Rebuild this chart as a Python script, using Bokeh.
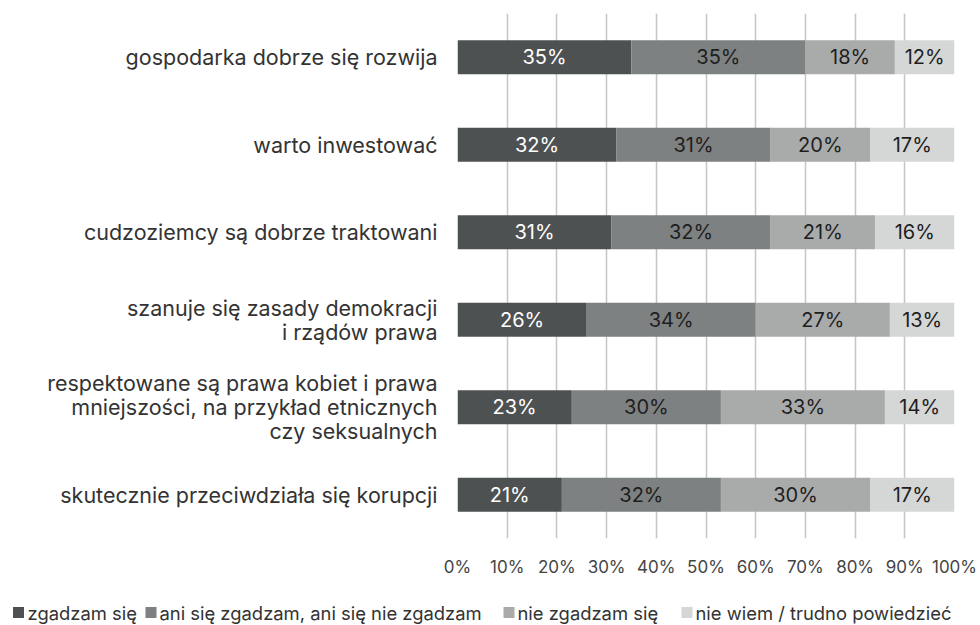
from bokeh.plotting import figure
from bokeh.models import ColumnDataSource, Range1d, FactorRange, FixedTicker
from bokeh.core.properties import value
from bokeh.embed import file_html
from bokeh.resources import INLINE

categories = [
    "gospodarka dobrze się rozwija",
    "warto inwestować",
    "cudzoziemcy są dobrze traktowani",
    "szanuje się zasady demokracji\ni rządów prawa",
    "respektowane są prawa kobiet i prawa\nmniejszości, na przykład etnicznych\nczy seksualnych",
    "skutecznie przeciwdziała się korupcji",
]
series_names = ["zgadzam się", "ani się zgadzam, ani się nie zgadzam", "nie zgadzam się", "nie wiem / trudno powiedzieć"]
zgadzam = [35, 32, 31, 26, 23, 21]
ani = [35, 31, 32, 34, 30, 32]
nie_zgadzam = [18, 20, 21, 27, 33, 30]
nie_wiem = [12, 17, 16, 13, 14, 17]
tick_values = [0, 10, 20, 30, 40, 50, 60, 70, 80, 90, 100]
tick_labels = ["0%", "10%", "20%", "30%", "40%", "50%", "60%", "70%", "80%", "90%", "100%"]

colors = ["#4e5152", "#7e8181", "#a9abab", "#d5d6d6"]
text_colors = ["#ffffff", "#1e1e1e", "#1e1e1e", "#1e1e1e"]
FONT = "Inter"

keys = ["s0", "s1", "s2", "s3"]
series = [zgadzam, ani, nie_zgadzam, nie_wiem]
src = ColumnDataSource(dict(cat=categories, **{k: v for k, v in zip(keys, series)}))

W = 980
H1 = 594
p = figure(width=W, height=H1, output_backend="svg", toolbar_location=None,
           y_range=FactorRange(*reversed(categories), range_padding=0),
           x_range=Range1d(0, 100),
           min_border_left=457, min_border_right=26, min_border_top=13, min_border_bottom=H1 - 538)
p.outline_line_color = None
p.background_fill_color = "white"
p.border_fill_color = "white"

renderers = p.hbar_stack(keys, y="cat", height=0.39, color=colors, source=src, line_color=None)

# segment labels
for i, k in enumerate(keys):
    xs, ys, ts = [], [], []
    for j, c in enumerate(categories):
        left = sum(series[m][j] for m in range(i))
        v = series[i][j]
        xs.append(left + v / 2)
        ys.append(c)
        ts.append(f"{v}%")
    p.text(x=xs, y=ys, text=ts, text_align="center", text_baseline="middle",
           text_color=text_colors[i], text_font=value(FONT), text_font_size="20px")

p.xaxis.ticker = FixedTicker(ticks=tick_values)
p.xaxis.major_label_overrides = {v: l for v, l in zip(tick_values, tick_labels)}
p.xaxis.axis_line_color = None
p.xaxis.major_tick_line_color = None
p.xaxis.minor_tick_line_color = None
p.xaxis.major_tick_out = 0
p.xaxis.major_label_standoff = 18
p.xaxis.major_label_text_font = FONT
p.xaxis.major_label_text_font_size = "17px"
p.xaxis.major_label_text_color = "#444444"

p.yaxis.axis_line_color = None
p.yaxis.major_tick_line_color = None
p.yaxis.minor_tick_line_color = None
p.yaxis.major_tick_out = 0
p.yaxis.major_label_standoff = 20
p.yaxis.major_label_text_font = FONT
p.yaxis.major_label_text_font_size = "21.5px"
p.yaxis.major_label_text_color = "#333333"
p.yaxis.major_label_text_line_height = 0.92

p.xgrid.ticker = FixedTicker(ticks=tick_values)
p.xgrid.grid_line_color = "#c4c6c6"
p.xgrid.grid_line_width = 1.5
p.ygrid.grid_line_color = None

# legend as its own small figure (pixel coordinates)
H2 = 625 - H1
lg = figure(width=W, height=H2, output_backend="svg", toolbar_location=None,
            x_range=Range1d(0, W), y_range=Range1d(0, H2),
            x_axis_location=None, y_axis_location=None,
            min_border_left=0, min_border_right=0, min_border_top=0, min_border_bottom=0)
lg.grid.visible = False
lg.outline_line_color = None
lg.background_fill_color = "white"
lg.border_fill_color = "white"
sq_x = [18, 150.5, 508.5, 686.5]
tx_x = [27, 159, 517, 695]
ly = H2 - 18
lg.scatter(x=sq_x, y=[ly] * 4, marker="square", size=11, color=colors, line_color=None)
lg.text(x=tx_x, y=[ly] * 4, text=series_names, text_align="left", text_baseline="middle",
        text_color="#333333", text_font=value(FONT), text_font_size="18.4px")

open("out.html", "w").write(file_html([p, lg], INLINE))
